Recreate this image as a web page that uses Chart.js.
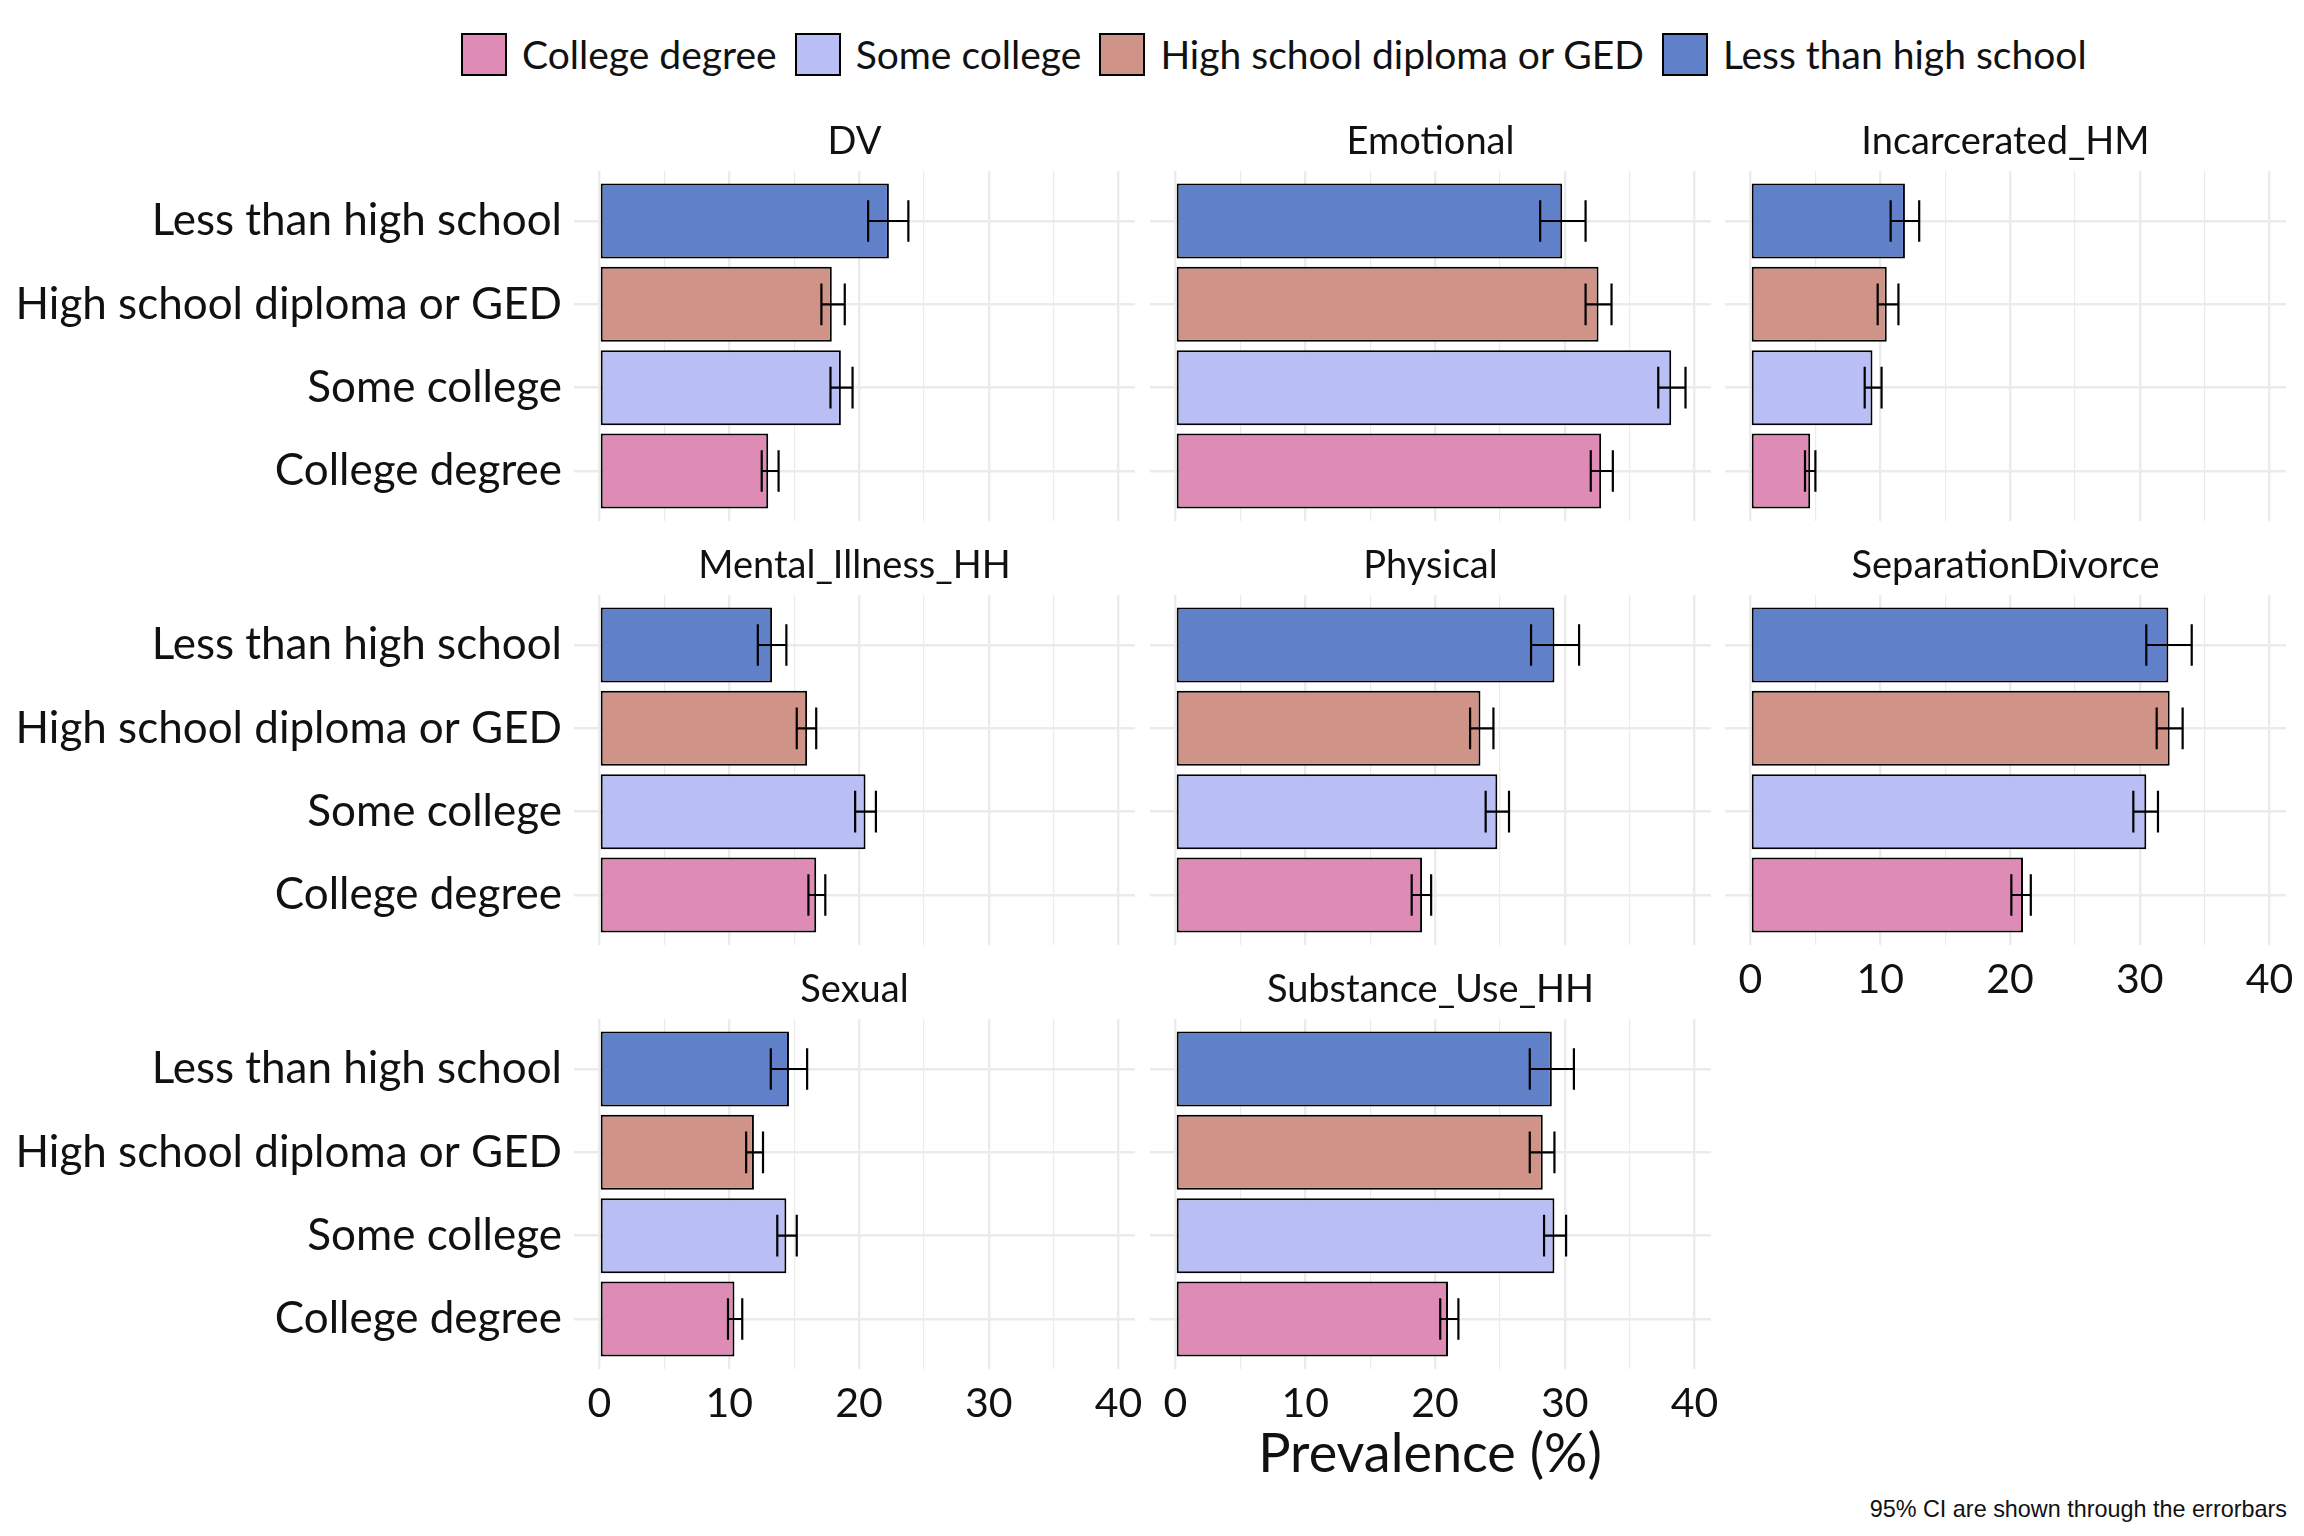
<!DOCTYPE html>
<html>
<head>
<meta charset="utf-8">
<title>Prevalence by education</title>
<script src="https://cdn.jsdelivr.net/npm/chart.js@4.4.1/dist/chart.umd.min.js"></script>
<style>
  html, body { margin: 0; padding: 0; background: #fff; overflow: hidden; }
  #page { position: relative; width: 2304px; height: 1536px; font-family: Lato, sans-serif; color: #111; }
  #page canvas { position: absolute; }
  #legend { position: absolute; left: 461px; top: 31px; display: flex; align-items: center; gap: 18px; font-size: 39px; }
  .item { display: flex; align-items: center; gap: 15px; white-space: nowrap; }
  .key { width: 46px; height: 43px; border: 2px solid #000; box-sizing: border-box; }
  #xtitle { position: absolute; left: 1430px; top: 1451px; transform: translate(-50%, -50%); font-size: 54px; white-space: nowrap; }
  #caption { position: absolute; right: 17px; top: 1509px; transform: translateY(-50%); font-family: "Liberation Sans", Arial, sans-serif; font-size: 23.4px; white-space: nowrap; }
</style>
</head>
<body>
<div id="page">
  <div id="legend"></div>
  <div id="xtitle">Prevalence (%)</div>
  <div id="caption">95% CI are shown through the errorbars</div>
</div>
<script>
// categorias (de arriba a abajo en cada panel)
const categories = ['Less than high school', 'High school diploma or GED', 'Some college', 'College degree'];
const barColors = ['#6080ca', '#d09388', '#b9bff5', '#de8bb5'];
const panelNames = ['DV', 'Emotional', 'Incarcerated_HM', 'Mental_Illness_HH', 'Physical', 'SeparationDivorce', 'Sexual', 'Substance_Use_HH'];
const xTickValues = [0, 5, 10, 15, 20, 25, 30, 35, 40];

// prevalencia y limites del IC 95%
const dv = [22.3, 17.9, 18.6, 13.0];
const dvLo = [20.7, 17.1, 17.8, 12.5];
const dvHi = [23.8, 18.9, 19.5, 13.8];

const emotional = [29.8, 32.6, 38.2, 32.8];
const emotionalLo = [28.1, 31.6, 37.2, 32.0];
const emotionalHi = [31.6, 33.6, 39.3, 33.7];

const incarcerated = [11.9, 10.5, 9.4, 4.6];
const incarceratedLo = [10.8, 9.8, 8.8, 4.2];
const incarceratedHi = [13.0, 11.4, 10.1, 5.0];

const mental = [13.3, 16.0, 20.5, 16.7];
const mentalLo = [12.2, 15.2, 19.7, 16.1];
const mentalHi = [14.4, 16.7, 21.3, 17.4];

const physical = [29.2, 23.5, 24.8, 19.0];
const physicalLo = [27.4, 22.7, 23.9, 18.2];
const physicalHi = [31.1, 24.5, 25.7, 19.7];

const separation = [32.2, 32.3, 30.5, 21.0];
const separationLo = [30.5, 31.3, 29.5, 20.1];
const separationHi = [34.0, 33.3, 31.4, 21.6];

const sexual = [14.6, 11.9, 14.4, 10.4];
const sexualLo = [13.2, 11.3, 13.7, 9.9];
const sexualHi = [16.0, 12.6, 15.2, 11.0];

const substance = [29.0, 28.3, 29.2, 21.0];
const substanceLo = [27.3, 27.3, 28.4, 20.4];
const substanceHi = [30.7, 29.2, 30.1, 21.8];

const panelValues = [dv, emotional, incarcerated, mental, physical, separation, sexual, substance];
const panelLows = [dvLo, emotionalLo, incarceratedLo, mentalLo, physicalLo, separationLo, sexualLo, substanceLo];
const panelHighs = [dvHi, emotionalHi, incarceratedHi, mentalHi, physicalHi, separationHi, sexualHi, substanceHi];

// layout de la grilla (px)
const panelLeft = [574, 1150, 1725];
const panelTop = [171, 595, 1019];
const panelW = 561;
const panelH = 350;

// escala compartida con expansion del 5%
const dataMax = Math.max(...panelHighs.flat());
const xMin = -0.05 * dataMax;
const xMax = 1.05 * dataMax;

Chart.defaults.font.family = 'Lato';
Chart.defaults.color = '#111';

const errorBars = {
    id: 'errorBars',
    afterDatasetsDraw(chart, args, opts) {
        const { ctx, scales: { x, y } } = chart;
        ctx.save();
        ctx.strokeStyle = '#000';
        ctx.lineWidth = 2.2;
        opts.lo.forEach((lo, i) => {
            const x0 = x.getPixelForValue(lo);
            const x1 = x.getPixelForValue(opts.hi[i]);
            const yc = y.getPixelForValue(i + 1);
            const y0 = y.getPixelForValue(i + 1 - 0.25);
            const y1 = y.getPixelForValue(i + 1 + 0.25);
            ctx.beginPath();
            ctx.moveTo(x0, yc); ctx.lineTo(x1, yc);
            ctx.moveTo(x0, y0); ctx.lineTo(x0, y1);
            ctx.moveTo(x1, y0); ctx.lineTo(x1, y1);
            ctx.stroke();
        });
        ctx.restore();
    }
};

const stripTitle = {
    id: 'stripTitle',
    afterDraw(chart, args, opts) {
        const { ctx, chartArea } = chart;
        ctx.save();
        ctx.font = '38px Lato';
        ctx.fillStyle = '#111';
        ctx.textAlign = 'center';
        ctx.textBaseline = 'middle';
        ctx.fillText(opts.text, (chartArea.left + chartArea.right) / 2, chartArea.top - 29);
        ctx.restore();
    }
};

function makePanel(i) {
    const col = i % 3;
    const row = Math.floor(i / 3);
    const showY = col === 0;
    const showX = row === 2 || (row === 1 && col === 2);
    const yW = showY ? panelLeft[col] : 0;
    const padL = showY ? 0 : 20;
    const padT = 60, padR = 30;
    const xH = showX ? 60 : 0;
    const padB = showX ? 0 : 50;

    const canvas = document.createElement('canvas');
    canvas.width = padL + yW + panelW + padR;
    canvas.height = padT + panelH + xH + padB;
    canvas.style.left = (panelLeft[col] - yW - padL) + 'px';
    canvas.style.top = (panelTop[row] - padT) + 'px';
    document.getElementById('page').appendChild(canvas);

    new Chart(canvas, {
        type: 'bar',
        data: {
            datasets: [{
                data: panelValues[i].map((v, k) => ({ x: v, y: k + 1 })),
                backgroundColor: barColors,
                borderColor: '#000',
                borderWidth: 2,
                borderSkipped: false,
                barPercentage: 0.9,
                categoryPercentage: 1
            }]
        },
        options: {
            indexAxis: 'y',
            responsive: false,
            animation: false,
            devicePixelRatio: 1,
            layout: { padding: { left: padL, right: padR, top: padT, bottom: padB } },
            plugins: {
                legend: { display: false },
                tooltip: { enabled: false },
                stripTitle: { text: panelNames[i] },
                errorBars: { lo: panelLows[i], hi: panelHighs[i] }
            },
            scales: {
                x: {
                    type: 'linear',
                    min: xMin,
                    max: xMax,
                    border: { display: false },
                    grid: {
                        color: '#ebebeb',
                        lineWidth: c => (c.tick && c.tick.value % 10 === 0) ? 2.4 : 1.2,
                        drawTicks: false
                    },
                    afterBuildTicks: s => { s.ticks = xTickValues.map(v => ({ value: v })); },
                    afterFit: s => { s.height = xH; },
                    ticks: {
                        display: showX,
                        autoSkip: false,
                        maxRotation: 0,
                        padding: 10,
                        color: '#111',
                        font: { size: 41 },
                        callback: v => (v % 10 === 0 ? String(v) : '')
                    }
                },
                y: {
                    type: 'linear',
                    reverse: true,
                    offset: false,
                    min: 0.4,
                    max: categories.length + 0.6,
                    border: { display: false },
                    grid: { color: '#ebebeb', lineWidth: 2.4, drawTicks: false, offset: false },
                    afterBuildTicks: s => { s.ticks = categories.map((c, k) => ({ value: k + 1 })); },
                    afterFit: s => { s.width = yW; },
                    ticks: {
                        display: showY,
                        autoSkip: false,
                        padding: 12,
                        color: '#111',
                        font: { size: 44 },
                        callback: v => categories[v - 1]
                    }
                }
            }
        },
        plugins: [errorBars, stripTitle]
    });
}

function buildLegend() {
    const legend = document.getElementById('legend');
    // el orden de la leyenda va invertido
    for (let k = categories.length - 1; k >= 0; k--) {
        const item = document.createElement('div');
        item.className = 'item';
        const key = document.createElement('div');
        key.className = 'key';
        key.style.background = barColors[k];
        const label = document.createElement('span');
        label.textContent = categories[k];
        item.appendChild(key);
        item.appendChild(label);
        legend.appendChild(item);
    }
}

buildLegend();
panelNames.forEach((name, i) => makePanel(i));
</script>
</body>
</html>
